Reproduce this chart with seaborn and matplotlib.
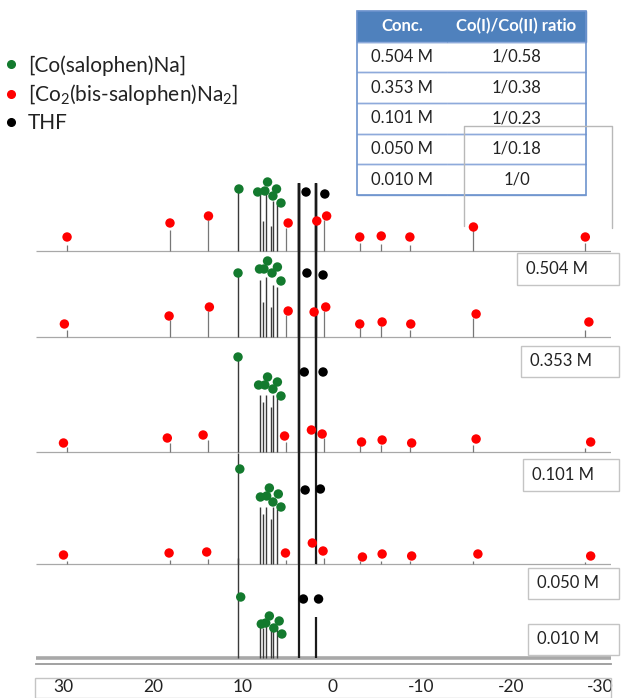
import pandas as pd
import seaborn as sns
import matplotlib.pyplot as plt
from matplotlib.patches import Rectangle
from matplotlib.lines import Line2D
from matplotlib.ticker import MultipleLocator, FuncFormatter

# ---- data ----
concs = ['0.504 M', '0.353 M', '0.101 M', '0.050 M', '0.010 M']
ratios = ['1/0.58', '1/0.38', '1/0.23', '1/0.18', '1/0']
species = ['[Co(salophen)Na]', '[Co$_2$(bis-salophen)Na$_2$]', 'THF']

# peak positions (ppm)
red_ppm = [29.6, 18.1, 13.8, 5.1, 1.8, 0.9, -3.1, -5.5, -8.7, -15.8, -28.3]
green_ppm = [10.5, 8.0, 7.7, 7.4, 6.8, 6.6, 6.1]
thf_ppm = [3.65, 1.8]

# peak heights (a.u.) for each concentration
red_h_504 = [6, 21, 31, 23, 30, 31, 8, 7, 6, 21, 8]
red_h_353 = [7, 17, 26, 22, 25, 26, 9, 11, 7, 19, 7]
red_h_101 = [5, 9, 12, 10, 14, 14, 7, 7, 5, 7, 4]
red_h_050 = [3, 4, 5, 4, 8, 6, 3, 3, 3, 3, 2]
red_h_010 = [0, 0, 0, 0, 0, 0, 0, 0, 0, 0, 0]

green_h_504 = [59, 58, 30, 59, 25, 50, 48]
green_h_353 = [61, 57, 35, 60, 30, 52, 50]
green_h_101 = [95, 57, 50, 57, 45, 57, 55]
green_h_050 = [111, 57, 50, 57, 45, 57, 55]
green_h_010 = [100, 33, 30, 33, 28, 33, 30]

thf_h_504 = [68, 68]
thf_h_353 = [154, 154]
thf_h_101 = [269, 269]
thf_h_050 = [380, 380]
thf_h_010 = [475, 41]

# assignment markers (ppm, height a.u.)
red_dots_504 = [(29.6, 14), (18.1, 28), (13.8, 35), (4.9, 28), (1.7, 30), (0.6, 35),
                (-3.1, 14), (-5.5, 15), (-8.7, 14), (-15.8, 24), (-28.3, 14)]
red_dots_353 = [(29.9, 13), (18.2, 21), (13.7, 30), (4.9, 26), (2.0, 25), (0.7, 30),
                (-3.1, 13), (-5.6, 15), (-8.8, 13), (-16.1, 23), (-28.7, 15)]
red_dots_101 = [(30.0, 9), (18.4, 14), (14.4, 17), (5.3, 16), (2.3, 22), (1.1, 18),
                (-3.3, 10), (-5.6, 12), (-8.9, 9), (-16.1, 13), (-28.9, 10)]
red_dots_050 = [(30.0, 9), (18.2, 11), (14.0, 12), (5.2, 11), (2.2, 21), (1.0, 13),
                (-3.4, 7), (-5.6, 10), (-8.9, 8), (-16.3, 10), (-28.9, 8)]
red_dots_010 = []

green_dots_504 = [(10.4, 62), (8.3, 59), (7.2, 69), (7.5, 60), (6.2, 62), (6.6, 55), (5.7, 48)]
green_dots_353 = [(10.5, 64), (8.1, 68), (7.2, 76), (7.6, 68), (6.1, 70), (6.7, 64), (5.7, 56)]
green_dots_101 = [(10.5, 95), (8.2, 67), (7.2, 75), (7.5, 67), (6.1, 70), (6.6, 63), (5.7, 56)]
green_dots_050 = [(10.3, 95), (8.0, 67), (7.0, 76), (7.3, 68), (6.0, 70), (6.6, 62), (5.7, 57)]
green_dots_010 = [(10.2, 61), (7.9, 34), (7.0, 42), (7.4, 35), (5.9, 37), (6.5, 30), (5.6, 24)]

thf_dots_504 = [(2.9, 59), (0.8, 57)]
thf_dots_353 = [(2.8, 64), (1.0, 62)]
thf_dots_101 = [(3.1, 80), (1.0, 80)]
thf_dots_050 = [(3.0, 74), (1.3, 75)]
thf_dots_010 = [(3.2, 59), (1.5, 59)]

# ---- layout ----
W, H = 622, 698
offsets = [413, 327, 212, 100, 6]      # stacking offset of each trace
green_c, red_c, black_c = '#137a2e', '#ff0000', '#000000'
palette = {species[0]: green_c, species[1]: red_c, species[2]: black_c}


def fx(px):
    return px / W


def fy(py):
    return 1 - py / H


sns.set_theme(style='white')
plt.rcParams['font.family'] = ['Lato', 'DejaVu Sans']
plt.rcParams['mathtext.fontset'] = 'custom'
plt.rcParams['mathtext.rm'] = 'Lato'
plt.rcParams['mathtext.it'] = 'Lato:italic'
plt.rcParams['axes.unicode_minus'] = False

fig = plt.figure(figsize=(W / 100, H / 100), dpi=100)
ax = fig.add_axes([fx(36), 34 / H, 575 / W, 664 / H])
ax.set_facecolor('none')

spectra = [
    (red_h_504, green_h_504, thf_h_504, red_dots_504, green_dots_504, thf_dots_504),
    (red_h_353, green_h_353, thf_h_353, red_dots_353, green_dots_353, thf_dots_353),
    (red_h_101, green_h_101, thf_h_101, red_dots_101, green_dots_101, thf_dots_101),
    (red_h_050, green_h_050, thf_h_050, red_dots_050, green_dots_050, thf_dots_050),
    (red_h_010, green_h_010, thf_h_010, red_dots_010, green_dots_010, thf_dots_010),
]

rows = []
for i, (rh, gh, th, rd, gd, td) in enumerate(spectra):
    base = offsets[i]
    last = i == len(spectra) - 1
    ax.hlines(base, 33.07, -31.17, color='#a8a8a8',
              lw=2.6 if last else 0.9, zorder=1)
    ax.vlines(red_ppm, base, [base + h for h in rh], color='#777777', lw=0.9, zorder=2)
    ax.vlines(green_ppm, base, [base + h for h in gh], color='#3a3a3a', lw=1.0, zorder=2)
    ax.vlines(thf_ppm, base, [base + h for h in th], color='#1a1a1a', lw=1.6, zorder=2)
    for name, dots in zip(species, [gd, rd, td]):
        for p, h in dots:
            rows.append({'ppm': p, 'y': base + h, 'species': name})

dots_df = pd.DataFrame(rows)
sns.scatterplot(data=dots_df, x='ppm', y='y', hue='species', palette=palette,
                s=46, linewidth=0, legend=False, ax=ax, zorder=5)

ax.set_xlim(33.07, -31.17)
ax.set_ylim(0, 664)
ax.set_xlabel('')
ax.set_ylabel('')
ax.set_yticks([])
for side in ['top', 'left', 'right']:
    ax.spines[side].set_visible(False)
ax.spines['bottom'].set_color('#9a9a9a')
ax.spines['bottom'].set_linewidth(1.3)
ax.xaxis.set_major_locator(MultipleLocator(10))
ax.xaxis.set_minor_locator(MultipleLocator(2))
ax.xaxis.set_major_formatter(FuncFormatter(lambda v, pos: f'{int(round(v))}'))
ax.tick_params(axis='x', which='major', direction='out', length=8, width=1,
               color='#9a9a9a', labelsize=12.5, labelcolor='#222222', pad=3)
ax.tick_params(axis='x', which='minor', direction='out', length=4.3, width=1, color='#9a9a9a')

# box round the tick labels
fig.add_artist(Rectangle((fx(35), fy(698)), fx(611) - fx(35), fy(678) - fy(698),
                         transform=fig.transFigure, fill=False, ec='#c4c4c4', lw=1))

# concentration labels
label_boxes = [(517, 253, 285), (521, 346, 377), (523, 459, 491), (528, 568, 599), (528, 624, 655)]
for lab, (x0, y0, y1) in zip(concs, label_boxes):
    fig.add_artist(Rectangle((fx(x0), fy(y1)), fx(619) - fx(x0), fy(y0) - fy(y1),
                             transform=fig.transFigure, fc='white', ec='#c4c4c4', lw=1))
    fig.text(fx(x0 + 9), fy((y0 + y1) / 2), lab, fontsize=12, color='#222222',
             ha='left', va='center')

# legend
handles = [Line2D([], [], marker='o', ls='none', color=palette[s], markersize=5.5)
           for s in species]
fig.legend(handles, species, loc='upper left', bbox_to_anchor=(fx(5), fy(55)),
           frameon=False, fontsize=15, handlelength=0.6, handletextpad=0.5,
           labelspacing=0.3, borderpad=0, borderaxespad=0, labelcolor='#222222')

# ratio table
tab_ax = fig.add_axes([fx(357), fy(195), fx(586) - fx(357), fy(11) - fy(195)])
tab_ax.axis('off')
table = tab_ax.table(cellText=[[c, r] for c, r in zip(concs, ratios)],
                     colLabels=['Conc.', 'Co(I)/Co(II) ratio'],
                     colWidths=[90 / 229, 139 / 229], cellLoc='center',
                     bbox=[0, 0, 1, 1])
table.auto_set_font_size(False)
table.set_fontsize(12)
for (r, c), cell in table.get_celld().items():
    if r == 0:
        cell.set_facecolor('#4f81bd')
        cell.set_edgecolor('#4f81bd')
        cell.get_text().set_color('white')
        cell.get_text().set_fontweight('bold')
    else:
        cell.set_facecolor('white')
        cell.set_edgecolor('#8eaadb')
        cell.visible_edges = 'horizontal'
        cell.get_text().set_color('#222222')
        if c == 0:
            cell._loc = 'left'
            cell.PAD = 0.16
tab_ax.add_patch(Rectangle((0, 0), 1, 1, transform=tab_ax.transAxes, fill=False,
                           ec='#6d93cd', lw=1.2, clip_on=False, zorder=10))

# stray frame overlapping the table
fig.add_artist(Line2D([fx(464), fx(464), fx(612), fx(612)],
                      [fy(226), fy(126), fy(126), fy(228)],
                      transform=fig.transFigure, color='#b8b8b8', lw=1))

fig.savefig('out.png', dpi=100)
